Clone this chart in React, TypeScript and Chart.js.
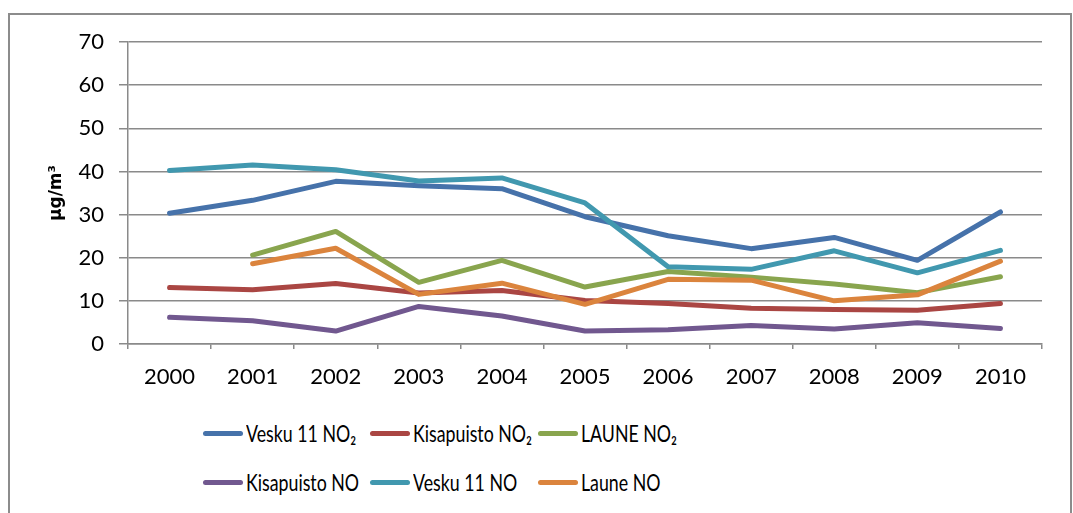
import React, { useEffect, useRef } from "react";
import { Chart, registerables } from "chart.js";

Chart.register(...registerables);

const years = ["2000", "2001", "2002", "2003", "2004", "2005", "2006", "2007", "2008", "2009", "2010"];

const veskuNO2 = [30.3, 33.3, 37.7, 36.7, 36.0, 29.5, 25.1, 22.1, 24.7, 19.4, 30.6];
const kisapuistoNO2 = [13.1, 12.6, 14.0, 11.8, 12.4, 10.1, 9.4, 8.3, 8.0, 7.8, 9.4];
const launeNO2 = [null, 20.6, 26.1, 14.3, 19.4, 13.2, 16.8, 15.5, 13.9, 11.9, 15.6];
const kisapuistoNO = [6.2, 5.4, 3.0, 8.7, 6.5, 3.0, 3.3, 4.3, 3.5, 4.9, 3.6];
const veskuNO = [40.2, 41.5, 40.4, 37.8, 38.5, 32.7, 17.9, 17.3, 21.6, 16.5, 21.7];
const launeNO = [null, 18.6, 22.2, 11.5, 14.1, 9.2, 15.0, 14.8, 10.0, 11.4, 19.2];

const seriesNames = ["Vesku 11 NO₂", "Kisapuisto NO₂", "LAUNE NO₂", "Kisapuisto NO", "Vesku 11 NO", "Laune NO"];
const seriesColors = ["#4672AA", "#AA4643", "#89A54E", "#71588F", "#4198AF", "#DB843D"];
const seriesData = [veskuNO2, kisapuistoNO2, launeNO2, kisapuistoNO, veskuNO, launeNO];

const yTicks = [0, 10, 20, 30, 40, 50, 60, 70];
const yTitle = "µg/m³";

const legendCols = [203, 370, 538];
const legendRows = [433, 482];

export default function App() {
  const ref = useRef<HTMLCanvasElement | null>(null);

  useEffect(() => {
    if (!ref.current) return;
    const chart = new Chart(ref.current, {
      type: "line",
      data: {
        labels: years,
        datasets: seriesData.map((d, i) => ({
          label: seriesNames[i],
          data: d,
          borderColor: seriesColors[i],
          backgroundColor: seriesColors[i],
          borderWidth: 5,
          borderCapStyle: "round",
          borderJoinStyle: "round",
          pointRadius: 0,
          tension: 0,
          fill: false,
          spanGaps: false,
          order: 10 - i,
        })),
      },
      options: {
        animation: false,
        responsive: false,
        devicePixelRatio: 1,
        layout: { padding: { left: 46, top: 42, right: 31, bottom: 0 } },
        plugins: { legend: { display: false }, tooltip: { enabled: false } },
        scales: {
          x: {
            type: "category",
            offset: true,
            grid: {
              offset: true,
              drawOnChartArea: false,
              drawTicks: true,
              tickLength: 5,
              color: "#8a8a8a",
              lineWidth: 1.5,
            },
            border: { display: true, color: "#8a8a8a", width: 1.5 },
            ticks: {
              color: "#000",
              font: { family: "Lato", size: 22 },
              padding: 15,
              maxRotation: 0,
              autoSkip: false,
            },
            afterFit: (s: any) => {
              s.height = 56;
            },
          },
          y: {
            min: 0,
            max: 70,
            afterBuildTicks: (s: any) => {
              s.ticks = yTicks.map((v) => ({ value: v }));
            },
            grid: {
              color: "#8a8a8a",
              lineWidth: 1.5,
              tickLength: 9,
              drawTicks: true,
            },
            border: { display: true, color: "#8a8a8a", width: 1.5 },
            ticks: {
              color: "#000",
              font: { family: "Lato", size: 22 },
              padding: 15,
            },
            title: {
              display: true,
              text: yTitle,
              color: "#000",
              font: { family: "DejaVu Sans", size: 17, weight: "bold" },
              padding: { top: 0, bottom: 0 },
            },
            afterFit: (s: any) => {
              s.width = 82;
            },
          },
        },
      },
    });
    return () => chart.destroy();
  }, []);

  return (
    <div style={{ position: "absolute", left: 0, top: 0, width: 1073, height: 513, overflow: "hidden", background: "#fff" }}>
      <div
        style={{
          position: "absolute",
          left: 8,
          top: 13,
          width: 1064,
          height: 520,
          boxSizing: "border-box",
          border: "2px solid #8c8c8c",
        }}
      />
      <canvas ref={ref} width={1073} height={400} style={{ position: "absolute", left: 0, top: 0, width: 1073, height: 400 }} />
      {seriesNames.map((name, i) => {
        const x = legendCols[i % 3];
        const y = legendRows[Math.floor(i / 3)];
        return (
          <div key={name} style={{ position: "absolute", left: x, top: y - 16, height: 32, display: "flex", alignItems: "center" }}>
            <div style={{ width: 40, height: 5, borderRadius: 3, background: seriesColors[i] }} />
            <span
              style={{
                marginLeft: 3,
                fontFamily: "Lato, sans-serif",
                fontSize: 24,
                color: "#000",
                whiteSpace: "nowrap",
                lineHeight: "32px",
                display: "inline-block",
                transform: "scaleX(0.74)",
                transformOrigin: "left center",
              }}
            >
              {name}
            </span>
          </div>
        );
      })}
    </div>
  );
}
